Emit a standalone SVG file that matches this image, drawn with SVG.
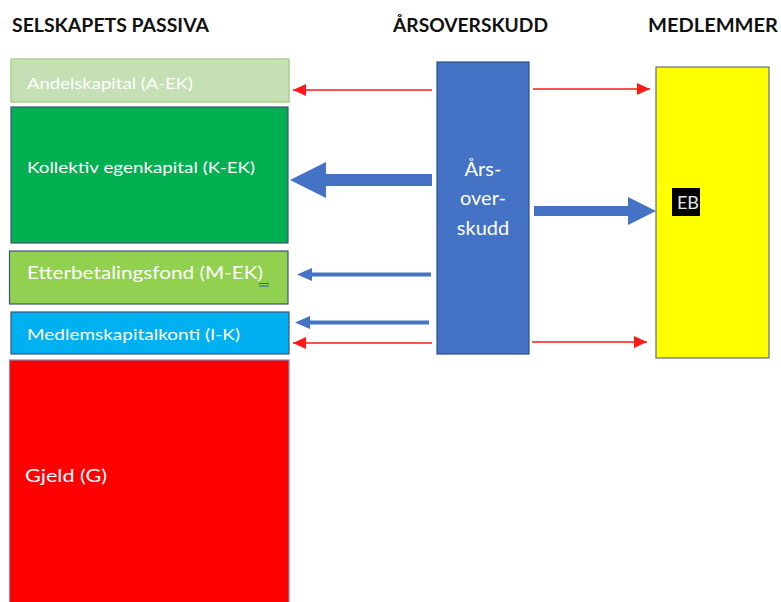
<svg xmlns="http://www.w3.org/2000/svg" width="781" height="602" viewBox="0 0 781 602">
<style>
.h{font-family:Lato,"Liberation Sans",sans-serif;font-weight:bold;font-size:18px;fill:#111}
.t{font-family:Lato,"Liberation Sans",sans-serif;fill:#fff}
.box{stroke:#41527a;stroke-width:1.2}
.red{stroke:#ff1a1a;stroke-width:1.6;fill:none}
.blue{fill:#4472c4}
</style>
<defs>
<marker id="rh" markerWidth="13" markerHeight="12" refX="13" refY="6" orient="auto" markerUnits="userSpaceOnUse">
<path d="M0,0 L13,6 L0,12 Z" fill="#ff1a1a"/>
</marker>
</defs>
<rect width="781" height="602" fill="#fff"/>
<text class="h" x="12" y="32" textLength="197" lengthAdjust="spacingAndGlyphs">SELSKAPETS PASSIVA</text>
<text class="h" x="393" y="32" textLength="155" lengthAdjust="spacingAndGlyphs">ÅRSOVERSKUDD</text>
<text class="h" x="648" y="32" textLength="130" lengthAdjust="spacingAndGlyphs">MEDLEMMER</text>

<g id="a-ek">
<rect x="11" y="59" width="278" height="43" fill="#c5e0b4" stroke="#a9d18e" stroke-width="1.5"/>
<text class="t" x="27" y="89" font-size="16" textLength="166" lengthAdjust="spacingAndGlyphs">Andelskapital  (A-EK)</text>
</g>
<g id="k-ek">
<rect class="box" x="11" y="107" width="277" height="136" fill="#00b050"/>
<text class="t" x="27" y="173" font-size="16" textLength="228" lengthAdjust="spacingAndGlyphs">Kollektiv egenkapital (K-EK)</text>
</g>
<g id="m-ek">
<rect class="box" x="9.5" y="251" width="278.5" height="53" fill="#92d050"/>
<text class="t" x="27" y="279" font-size="18" textLength="236" lengthAdjust="spacingAndGlyphs">Etterbetalingsfond (M-EK)</text>
<path d="M259,283.5 H269 M259,286 H269" stroke="#2f5fb0" stroke-width="1"/>
</g>
<g id="i-k">
<rect class="box" x="11" y="312" width="278" height="42" fill="#00b0f0"/>
<text class="t" x="27" y="340" font-size="16" textLength="213" lengthAdjust="spacingAndGlyphs">Medlemskapitalkonti (I-K)</text>
</g>
<g id="g">
<rect x="9.5" y="360" width="279.5" height="250" fill="#ff0000" stroke="#7f8fb5" stroke-width="1.2"/>
<text class="t" x="25" y="482" font-size="18" textLength="82" lengthAdjust="spacingAndGlyphs">Gjeld (G)</text>
</g>
<g id="aarsoverskudd">
<rect x="437" y="62" width="92" height="292" fill="#4472c4" stroke="#2f4f7f" stroke-width="1.2"/>
<g class="t" font-size="20" text-anchor="middle">
<text x="483" y="176">Års-</text>
<text x="483" y="205">over-</text>
<text x="483" y="235">skudd</text>
</g>
</g>
<g id="medlemmer">
<rect x="656" y="67" width="113" height="291" fill="#ffff00" stroke="#5b6b8f" stroke-width="1.2"/>
<rect x="672" y="188" width="28" height="28" fill="#000"/>
<text x="688" y="209" font-family="Lato,'Liberation Sans',sans-serif" font-size="18" fill="#e6e6e6" text-anchor="middle">EB</text>
</g>

<g id="connectors">
<line class="red" x1="432" y1="90" x2="293" y2="90" marker-end="url(#rh)"/>
<line class="red" x1="533" y1="89" x2="650" y2="89" marker-end="url(#rh)"/>
<line class="red" x1="432" y1="343" x2="293" y2="343" marker-end="url(#rh)"/>
<line class="red" x1="532" y1="342" x2="647" y2="342" marker-end="url(#rh)"/>
<polygon class="blue" points="432,174 326,174 326,162 290,180 326,198 326,186 432,186"/>
<polygon class="blue" points="534,206 628,206 628,197 656,211 628,225 628,216 534,216"/>
<polygon class="blue" points="431,272.5 312,272.5 312,268 297,274.5 312,281 312,276.5 431,276.5"/>
<polygon class="blue" points="429,320.5 310,320.5 310,316 295,322.5 310,329 310,324.5 429,324.5"/>
</g>
</svg>
